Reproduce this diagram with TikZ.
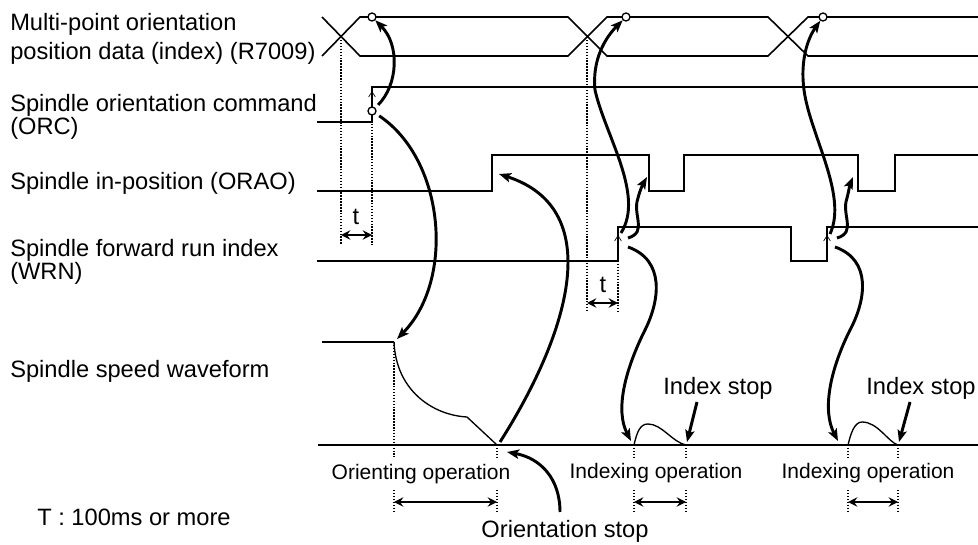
\documentclass[tikz,border=0pt]{standalone}
\usepackage{fontspec}
\setmainfont{Liberation Sans}
\usepackage{tikz}
\usetikzlibrary{arrows.meta, calc}

\begin{document}
\begin{tikzpicture}[x=0.75pt, y=-0.75pt,
  font=\fontsize{17.75}{17.75}\selectfont,
  sig/.style={line width=1.2pt},
  dots/.style={line width=1.3pt, dash pattern=on 1.1pt off 1.1pt},
  bigarrow/.style={line width=2.2pt, -{Stealth[length=9pt, width=7pt, inset=2pt]}},
  thinarrow/.style={line width=0.5pt, -{Straight Barb[length=4pt, width=5pt]}},
  dimarrow/.style={line width=1.5pt, {Stealth[length=7pt, width=7pt, inset=2.5pt]}-{Stealth[length=7pt, width=7pt, inset=2.5pt]}},
  ring/.style={circle, draw, line width=1pt, inner sep=0pt, minimum size=6pt, fill=white},
  lbl/.style={anchor=base west, inner sep=0pt},
  oplbl/.style={anchor=base, inner sep=0pt, font=\fontsize{15.75}{15.75}\selectfont}]
\useasboundingbox (0,0) rectangle (978,545);

% signal names
\node[lbl] (r7009a) at (10,31) {Multi-point orientation};
\node[lbl] (r7009b) at (10,60) {position data (index) (R7009)};
\node[lbl] (orca) at (10,112) {Spindle orientation command};
\node[lbl] (orcb) at (10,135) {(ORC)};
\node[lbl] (orao) at (10,190) {Spindle in-position (ORAO)};
\node[lbl] (wrna) at (10,257) {Spindle forward run index};
\node[lbl] (wrnb) at (10,280) {(WRN)};
\node[lbl] (speed) at (10,377) {Spindle speed waveform};
\node[lbl] (tnote) at (37,525) {T : 100ms or more};

% R7009
\draw[sig] (322,17) -- (360,56) -- (568,56) -- (607,17) -- (768,17) -- (808,56) -- (978,56);
\draw[sig] (322,56) -- (360,17) -- (568,17) -- (607,56) -- (768,56) -- (808,17) -- (978,17);
% ORC
\draw[sig] (317,122) -- (372,122) -- (372,87) -- (978,87);
% ORAO
\draw[sig] (317,191) -- (492,191) -- (492,155) -- (649,155) -- (649,191) -- (684,191)
  -- (684,155) -- (858,155) -- (858,191) -- (895,191) -- (895,155) -- (978,155);
% WRN
\draw[sig] (317,261) -- (618,261) -- (618,227) -- (791,227) -- (791,261) -- (827,261)
  -- (827,227) -- (978,227);
% speed waveform
\draw[sig] (322,342) -- (394,342);
\draw[line width=1pt] (394,342) .. controls (396,390) and (432,415) .. (467,417) -- (497,445);
\draw[sig] (318,445) -- (978,445);
\draw[line width=1pt] (634,445) .. controls (637,432) and (640,424) .. (648,424)
  .. controls (662,424) and (672,442) .. (686,445);
\draw[line width=1pt] (848,445) .. controls (851,432) and (855,422) .. (862,422)
  .. controls (878,422) and (888,442) .. (898,445);

% timing marks
\node[ring] (p1) at (372,17) {};
\node[ring] (p2) at (626,17) {};
\node[ring] (p3) at (823,17) {};
\draw[dots] (341,37) -- (341,245);
\draw[dots] (372,115) -- (372,245);
\node[ring] (o1) at (372,111) {};
\draw[thinarrow] (o1) -- (372,91);
\draw[dimarrow] (341,235) -- (372,235);
\node[anchor=base] (t1) at (356,225) {t};
\draw[dots] (587,37) -- (587,312);
\draw[dots] (618,261) -- (618,312);
\draw[dimarrow] (587,303) -- (618,303);
\node[anchor=base] (t2) at (603,292) {t};
\draw[thinarrow] (618,252) -- (618,235);
\draw[thinarrow] (827,252) -- (827,235);

\draw[dots] (394,342) -- (394,457);
\foreach \x in {497,634,686,848,898} {
  \draw[dots] (\x,445) -- (\x,457);
}
\foreach \x in {394,497,634,686,848,898} {
  \draw[dots] (\x,490) -- (\x,513);
}
\draw[dimarrow] (394,502) -- (497,502);
\draw[dimarrow] (634,502) -- (686,502);
\draw[dimarrow] (848,502) -- (898,502);

\node[oplbl] (orient) at (421,479) {Orienting operation};
\node[oplbl] (index1) at (656,478) {Indexing operation};
\node[oplbl] (index2) at (868,478) {Indexing operation};
\node[anchor=base, inner sep=0pt] (ostop) at (565,537) {Orientation stop};
\node[anchor=base, inner sep=0pt] (istop1) at (718,394) {Index stop};
\node[anchor=base, inner sep=0pt] (istop2) at (921,394) {Index stop};

% cause -> effect arrows
\coordinate (spd) at (397,339);
\coordinate (oraoUp) at (499,174);
\coordinate (ostopPt) at (500,442);
\draw[bigarrow, shorten <=3pt] (o1) .. controls (398,85) and (400,45) .. (p1);
\draw[bigarrow, shorten <=3pt] (o1) .. controls (445,160) and (455,280) .. (spd);
\draw[bigarrow] (ostopPt) .. controls (565,340) and (610,210) .. (oraoUp);
\draw[bigarrow] (560,512) .. controls (560,478) and (540,458) .. (507,452);

\draw[bigarrow] (621,233) .. controls (645,195) and (605,135) .. (595,90)
  .. controls (592,60) and (605,38) .. (p2);
\draw[bigarrow] (628,238) .. controls (648,232) and (632,215) .. (638,198)
  .. controls (640,190) and (643,184) .. (647,177);
\draw[bigarrow] (628,247) .. controls (665,260) and (660,300) .. (645,330)
  .. controls (625,370) and (615,410) .. (631,441);
\draw[bigarrow] (697,402) -- (687,442);

\draw[bigarrow] (830,234) .. controls (848,195) and (810,135) .. (804,90)
  .. controls (800,60) and (808,38) .. (p3);
\draw[bigarrow] (837,238) .. controls (857,232) and (841,215) .. (847,198)
  .. controls (849,190) and (850,184) .. (853,177);
\draw[bigarrow] (835,247) .. controls (872,260) and (866,300) .. (850,330)
  .. controls (830,370) and (822,410) .. (838,441);
\draw[bigarrow] (910,402) -- (899,442);
\end{tikzpicture}
\end{document}
